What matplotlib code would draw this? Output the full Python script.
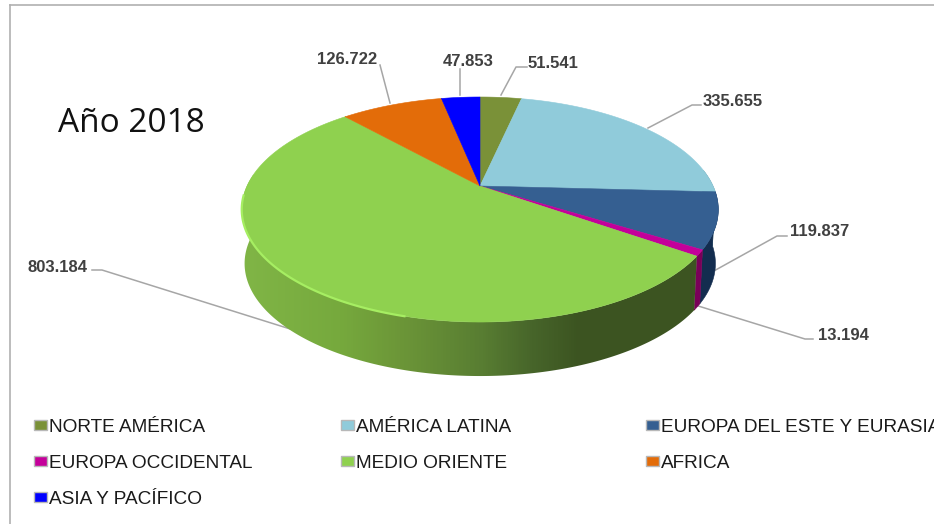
import numpy as np
import matplotlib
matplotlib.use("Agg")
import matplotlib.pyplot as plt
from matplotlib.colors import LinearSegmentedColormap
from matplotlib.patches import Polygon, Rectangle

regions = ["NORTE AMÉRICA", "AMÉRICA LATINA", "EUROPA DEL ESTE Y EURASIA",
           "EUROPA OCCIDENTAL", "MEDIO ORIENTE", "AFRICA", "ASIA Y PACÍFICO"]
values = [51541, 335655, 119837, 13194, 803184, 126722, 47853]
value_labels = ["51.541", "335.655", "119.837", "13.194", "803.184", "126.722", "47.853"]
colors = ["#7a9138", "#90cbda", "#355f91", "#c4009a", "#8fd14f", "#e36c09", "#0000ff"]
side_colors = ["#55682a", "#6a9aa6", "#132d4f", "#7a0059", "#3a5520", "#a34d06", "#0000a8"]

# pie geometry in pixels, perspective makes apex sit above the ellipse centre
cx, cy = 480, 186
a, b, k = 233, 107.6, 0.209
depth = 54
bottom_scale = 0.988  # bottom rim is a little narrower than the top one


def rim(theta):
    w = 1 + k * np.cos(theta)
    return cx + a * np.sin(theta) / w, cy - b * np.cos(theta) / w


fig = plt.figure(figsize=(9.34, 5.24), dpi=100)
ax = fig.add_axes([0, 0, 1, 1])
ax.set_xlim(0, 934)
ax.set_ylim(524, 0)
ax.axis("off")

# chart frame
ax.plot([10, 10], [524, 5], color="#b0b0b0", lw=1.2)
ax.plot([10, 934], [5, 5], color="#b0b0b0", lw=1.2)

edges = np.concatenate([[0], np.cumsum(values)]) / sum(values) * 2 * np.pi

# leader lines go under the pie
leaders = [
    ([501, 516, 527], [95, 67, 67]),
    ([648, 692, 701], [128, 105, 105]),
    ([712, 777, 787], [272, 236, 236]),
    ([695, 805, 813], [305, 339, 339]),
    ([303, 102, 92], [333, 270, 270]),
    ([390, 380], [103, 65]),
    ([460, 460], [95, 69]),
]
for xs, ys in leaders:
    ax.plot(xs, ys, color="#a6a6a6", lw=1.1, zorder=1)

# side wall, the green one gets a left to right gradient
grad_x0, grad_x1 = 235, 705
grad_stops = [(245, "#80b546"), (340, "#76a93d"), (400, "#6c9638"), (483, "#587d32"),
              (533, "#47652a"), (580, "#3c5421")]
green_cmap = LinearSegmentedColormap.from_list(
    "green_side",
    [(0, grad_stops[0][1])]
    + [((x - grad_x0) / (grad_x1 - grad_x0), c) for x, c in grad_stops]
    + [(1, grad_stops[-1][1])])
for i in range(len(values)):
    th = np.linspace(edges[i], edges[i + 1], 300)
    th = th[np.cos(th) < 0.15]
    if len(th) < 2:
        continue
    xs, ys = rim(th)
    low_x = cx + (xs - cx) * bottom_scale
    px = np.r_[xs, low_x[::-1]]
    py = np.r_[ys, ys[::-1] + depth]
    if regions[i] == "MEDIO ORIENTE":
        grad = ax.imshow(np.linspace(0, 1, 470)[None, :], cmap=green_cmap,
                         extent=[grad_x0, grad_x1, 385, 175], aspect="auto", zorder=2)
        grad.set_clip_path(Polygon(np.c_[px, py], transform=ax.transData))
    else:
        ax.fill(px, py, color=side_colors[i], lw=0.4, zorder=2)
ax.set_xlim(0, 934)
ax.set_ylim(524, 0)

# top face
for i in range(len(values)):
    th = np.linspace(edges[i], edges[i + 1], 200)
    xs, ys = rim(th)
    ax.fill(np.r_[cx, xs], np.r_[cy, ys], color=colors[i], lw=0.4, zorder=3)

# light rim on the front of the green slice
th = np.radians(np.linspace(195, 265, 100))
xs, ys = rim(th)
ax.plot(xs, ys, color="#a6ee62", lw=1.6, zorder=4)

label_pos = [(553, 63), (733, 102), (820, 231), (843, 335), (58, 267), (347, 59), (468, 61)]
for txt, (x, y) in zip(value_labels, label_pos):
    ax.text(x, y, txt, ha="center", va="center", fontsize=12, fontweight="bold",
            family="Liberation Sans", color="#404040", zorder=5)

ax.text(58, 124, "Año 2018", ha="left", va="center", fontsize=24,
        family="Open Sans", color="#111111")

# legend, laid out by hand because it fills row by row
col_x = [33, 340, 645]
row_y = [426, 462, 498]
for i, name in enumerate(regions):
    x = col_x[i % 3]
    y = row_y[i // 3]
    ax.add_patch(Rectangle((x + 1, y - 6), 13, 10, facecolor=colors[i],
                           edgecolor="#b8b8b8", lw=1))
    ax.text(x + 16, y + 1, name, ha="left", va="center", fontsize=13.7,
            family="Liberation Sans", color="#1a1a1a", clip_on=True)

fig.savefig("out.png", dpi=100)
